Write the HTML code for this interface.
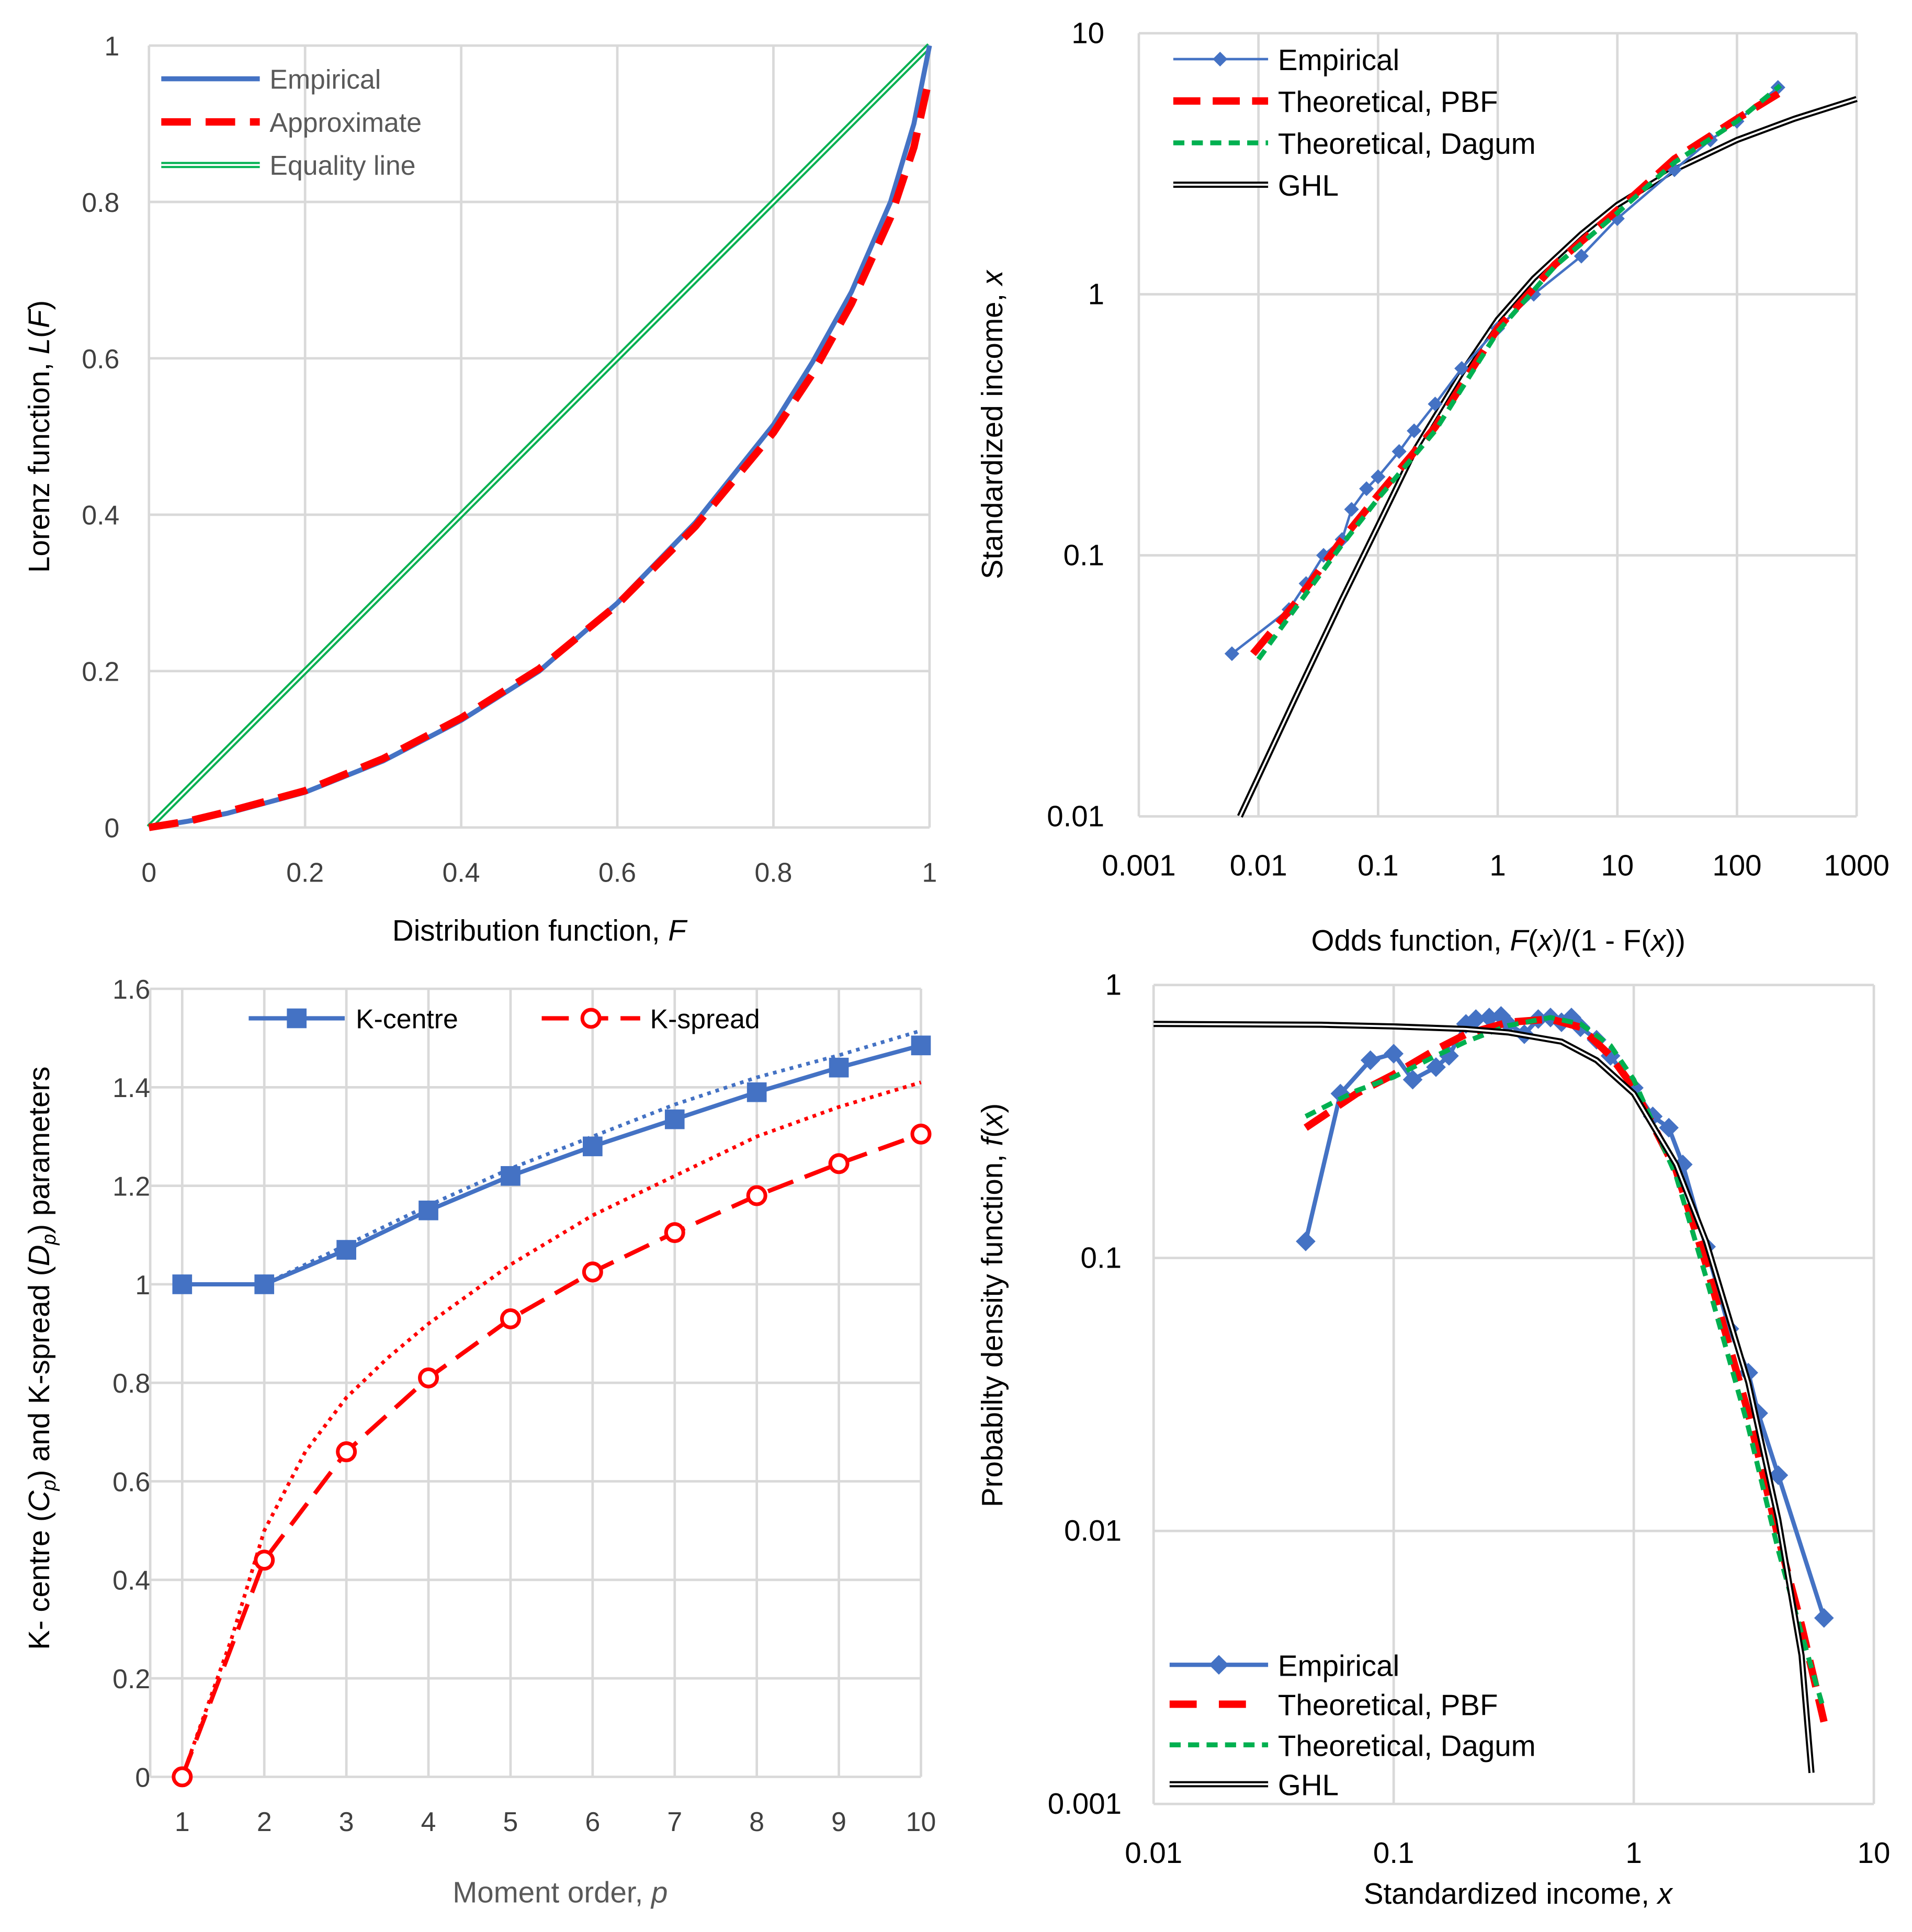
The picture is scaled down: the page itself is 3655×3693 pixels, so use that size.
<!DOCTYPE html>
<html><head><meta charset="utf-8">
<style>
html,body{margin:0;padding:0;background:#fff;}
svg{display:block;}
text{font-family:"Liberation Sans",sans-serif;fill:#000;}
</style></head>
<body>
<svg id="c" width="3655" height="3693" viewBox="0 0 1553 1569" preserveAspectRatio="none" xmlns="http://www.w3.org/2000/svg"></svg>
<script>
// ---------- Panel A: Lorenz ----------
const lorenzF = [0,0.05,0.1,0.2,0.3,0.4,0.5,0.6,0.7,0.8,0.85,0.9,0.95,0.98,1];
const lorenzEmp = [0,0.008,0.018,0.045,0.085,0.137,0.2,0.287,0.39,0.515,0.595,0.685,0.8,0.9,1];
const lorenzApprox = [0,0.008,0.02,0.047,0.088,0.14,0.203,0.285,0.385,0.505,0.58,0.67,0.78,0.87,0.96];
const lorenzTicks = [0,0.2,0.4,0.6,0.8,1];
// ---------- Panel B: odds ----------
const oddsEmp = [0.006,0.018,0.025,0.035,0.05,0.06,0.08,0.1,0.15,0.2,0.3,0.5,1,2,5,10,30,60,100,220];
const incEmp = [0.042,0.062,0.078,0.1,0.115,0.15,0.18,0.2,0.25,0.3,0.38,0.52,0.74,1.0,1.4,1.95,3.0,3.9,4.6,6.2];
const oddsPBF = [0.009,0.02,0.05,0.1,0.3,1,3,10,30,100,270];
const incPBF = [0.042,0.065,0.115,0.17,0.31,0.74,1.3,2.1,3.3,4.7,6.2];
const oddsDag = [0.01,0.02,0.05,0.1,0.3,1,3,10,30,100,230];
const incDag = [0.04,0.062,0.11,0.165,0.3,0.72,1.28,2.05,3.2,4.6,6.3];
const oddsGHL = [0.007,0.02,0.05,0.1,0.2,0.5,1,2,5,10,30,100,300,1000];
const incGHL = [0.01,0.028,0.068,0.13,0.25,0.5,0.8,1.15,1.7,2.2,3.0,3.9,4.7,5.6];
const oddsTicks = ["0.001","0.01","0.1","1","10","100","1000"];
const incTicks = ["0.01","0.1","1","10"];
// ---------- Panel C: moments ----------
const moments = [1,2,3,4,5,6,7,8,9,10];
const kCentre = [1,1,1.07,1.15,1.22,1.28,1.335,1.39,1.44,1.485];
const kCentreTrend = [null,1,1.08,1.16,1.235,1.3,1.365,1.42,1.465,1.515];
const kSpread = [0,0.44,0.66,0.81,0.93,1.025,1.105,1.18,1.245,1.305];
const kSpreadTrendP = [1,1.3,1.6,2,2.5,3,3.5,4,5,6,7,8,9,10];
const kSpreadTrend = [0,0.14,0.28,0.5,0.66,0.77,0.85,0.92,1.04,1.14,1.22,1.3,1.36,1.41];
const kTicks = [0,0.2,0.4,0.6,0.8,1,1.2,1.4,1.6];
// ---------- Panel D: pdf ----------
const xEmp = [0.043,0.06,0.08,0.1,0.12,0.15,0.17,0.2,0.22,0.25,0.28,0.3,0.35,0.4,0.45,0.5,0.55,0.6,0.7,0.8,1,1.2,1.4,1.6,2,2.5,3,3.3,4,6.2];
const fEmp = [0.115,0.4,0.53,0.56,0.45,0.5,0.55,0.72,0.75,0.76,0.77,0.72,0.66,0.75,0.76,0.73,0.76,0.7,0.63,0.55,0.42,0.33,0.3,0.22,0.11,0.055,0.038,0.027,0.016,0.0048];
const xPBF = [0.043,0.07,0.1,0.15,0.2,0.3,0.45,0.6,0.8,1,1.5,2,3,4,5,6.2];
const fPBF = [0.3,0.4,0.47,0.58,0.66,0.73,0.75,0.7,0.55,0.42,0.21,0.095,0.027,0.0095,0.0045,0.002];
const xDag = [0.043,0.07,0.1,0.15,0.2,0.3,0.45,0.6,0.8,1,1.5,2,3,4,5,6.2];
const fDag = [0.33,0.41,0.46,0.55,0.62,0.71,0.76,0.72,0.6,0.45,0.2,0.085,0.024,0.0085,0.0042,0.0022];
const xGHL = [0.01,0.05,0.1,0.2,0.3,0.5,0.7,1,1.5,2,3,4,5,5.5];
const fGHL = [0.72,0.715,0.705,0.69,0.67,0.62,0.53,0.4,0.22,0.115,0.035,0.011,0.0035,0.0013];
const pdfXTicks = ["0.01","0.1","1","10"];
const pdfYTicks = ["0.001","0.01","0.1","1"];

const NS="http://www.w3.org/2000/svg";
const svg=document.getElementById('c');
function mk(tag,attrs,parent){const e=document.createElementNS(NS,tag);for(const k in attrs)e.setAttribute(k,attrs[k]);(parent||svg).appendChild(e);return e;}
function txt(s,x,y,size,anchor,parent,fill){const t=mk('text',{x:x,y:y,'font-size':size,'text-anchor':anchor||'middle'},parent);if(fill)t.setAttribute('style','fill:'+fill);t.textContent=s;return t;}
function pathD(xs,ys,sx,sy){let d='';let first=true;for(let i=0;i<xs.length;i++){if(ys[i]===null)continue;d+=(first?'M':'L')+sx(xs[i]).toFixed(2)+' '+sy(ys[i]).toFixed(2)+' ';first=false;}return d;}
const GRID='#d9d9d9';

// ===== Panel A =====
{
const g=mk('g',{});


const sx=v=>121+v*634, sy=v=>672-v*635;
lorenzTicks.forEach(t=>{
  mk('line',{x1:sx(t),x2:sx(t),y1:sy(0),y2:sy(1),stroke:GRID,'stroke-width':2},g);
  mk('line',{x1:sx(0),x2:sx(1),y1:sy(t),y2:sy(t),stroke:GRID,'stroke-width':2},g);
  const a=txt(String(t),sx(t),716,22,'middle',g,'#404040');
  
  const b=txt(String(t),97,sy(t)+8,22,'end',g,'#404040');
  
});
let e=mk('path',{d:pathD([0,1],[0,1],sx,sy),stroke:'#00b050','stroke-width':5,fill:'none'},g);

mk('path',{d:pathD([0,1],[0,1],sx,sy),stroke:'#fff','stroke-width':1.6,fill:'none'},g);
e=mk('path',{d:pathD(lorenzF,lorenzEmp,sx,sy),stroke:'#4472c4','stroke-width':4,fill:'none'},g);

e=mk('path',{d:pathD(lorenzF,lorenzApprox,sx,sy),stroke:'#ff0000','stroke-width':6,fill:'none','stroke-dasharray':'24 12'},g);

const lg=mk('g',{},g);
mk('line',{x1:131,x2:211,y1:64,y2:64,stroke:'#4472c4','stroke-width':4},lg);
mk('line',{x1:131,x2:211,y1:99,y2:99,stroke:'#ff0000','stroke-width':6,'stroke-dasharray':'24 12'},lg);
mk('line',{x1:131,x2:211,y1:134,y2:134,stroke:'#00b050','stroke-width':5},lg);
mk('line',{x1:131,x2:211,y1:134,y2:134,stroke:'#fff','stroke-width':1.6},lg);
txt('Empirical',219,72,22,'start',lg,'#595959');
txt('Approximate',219,107,22,'start',lg,'#595959');
txt('Equality line',219,142,22,'start',lg,'#595959');
const xt=mk('text',{x:sx(0.5),y:764,'font-size':24,'text-anchor':'middle'},g);

xt.innerHTML='Distribution function, <tspan font-style="italic">F</tspan>';
const yt=mk('text',{x:0,y:0,'font-size':24,'text-anchor':'middle',transform:'translate(40,'+sy(0.5)+') rotate(-90)'},g);

yt.innerHTML='Lorenz function, <tspan font-style="italic">L</tspan>(<tspan font-style="italic">F</tspan>)';
}

// ===== Panel B =====
{
const g=mk('g',{});


const sx=v=>925+(Math.log10(v)+3)*97.17, sy=v=>663-(Math.log10(v)+2)*212;
oddsTicks.forEach(t=>{const v=parseFloat(t);
  mk('line',{x1:sx(v),x2:sx(v),y1:sy(0.01),y2:sy(10),stroke:GRID,'stroke-width':2},g);
  const a=txt(t,sx(v),711,24,'middle',g);});
incTicks.forEach(t=>{const v=parseFloat(t);
  mk('line',{x1:sx(0.001),x2:sx(1000),y1:sy(v),y2:sy(v),stroke:GRID,'stroke-width':2},g);
  const a=txt(t,897,sy(v)+8,24,'end',g);});
let e=mk('path',{d:pathD(oddsGHL,incGHL,sx,sy),stroke:'#000','stroke-width':5,fill:'none'},g);

mk('path',{d:pathD(oddsGHL,incGHL,sx,sy),stroke:'#fff','stroke-width':1.6,fill:'none'},g);
e=mk('path',{d:pathD(oddsEmp,incEmp,sx,sy),stroke:'#4472c4','stroke-width':2,fill:'none'},g);

oddsEmp.forEach((o,i)=>{const cx=sx(o),cy=sy(incEmp[i]);
  const m=mk('path',{d:`M${cx} ${cy-6}L${cx+6} ${cy}L${cx} ${cy+6}L${cx-6} ${cy}Z`,fill:'#4472c4'},g);
  });
e=mk('path',{d:pathD(oddsPBF,incPBF,sx,sy),stroke:'#ff0000','stroke-width':6,fill:'none','stroke-dasharray':'22 10'},g);

e=mk('path',{d:pathD(oddsDag,incDag,sx,sy),stroke:'#00b050','stroke-width':4,fill:'none','stroke-dasharray':'9 6'},g);

const lg=mk('g',{},g);
mk('line',{x1:953,x2:1030,y1:48,y2:48,stroke:'#4472c4','stroke-width':2},lg);
mk('path',{d:'M991 42L997 48L991 54L985 48Z',fill:'#4472c4'},lg);
mk('line',{x1:953,x2:1030,y1:82,y2:82,stroke:'#ff0000','stroke-width':6,'stroke-dasharray':'22 10'},lg);
mk('line',{x1:953,x2:1030,y1:116,y2:116,stroke:'#00b050','stroke-width':4,'stroke-dasharray':'9 6'},lg);
mk('line',{x1:953,x2:1030,y1:150,y2:150,stroke:'#000','stroke-width':5},lg);
mk('line',{x1:953,x2:1030,y1:150,y2:150,stroke:'#fff','stroke-width':1.6},lg);
txt('Empirical',1038,57,24,'start',lg);
txt('Theoretical, PBF',1038,91,24,'start',lg);
txt('Theoretical, Dagum',1038,125,24,'start',lg);
txt('GHL',1038,159,24,'start',lg);
const xt=mk('text',{x:1217,y:772,'font-size':24,'text-anchor':'middle'},g);

xt.innerHTML='Odds function, <tspan font-style="italic">F</tspan>(<tspan font-style="italic">x</tspan>)/(1 - F(<tspan font-style="italic">x</tspan>))';
const yt=mk('text',{x:0,y:0,'font-size':24,'text-anchor':'middle',transform:'translate(814,345) rotate(-90)'},g);

yt.innerHTML='Standardized income, <tspan font-style="italic">x</tspan>';
}

// ===== Panel C =====
{
const g=mk('g',{});


const sx=v=>148+(v-1)*66.67, sy=v=>1443-v*400;
moments.forEach(p=>{
  mk('line',{x1:sx(p),x2:sx(p),y1:sy(0),y2:sy(1.6),stroke:GRID,'stroke-width':2},g);
  const a=txt(String(p),sx(p),1487,22,'middle',g,'#404040');});
mk('line',{x1:sx(1)-26,x2:sx(1)-26,y1:sy(0),y2:sy(1.6),stroke:GRID,'stroke-width':2},g);
kTicks.forEach(t=>{
  mk('line',{x1:sx(1)-26,x2:sx(10),y1:sy(t),y2:sy(t),stroke:GRID,'stroke-width':2},g);
  const a=txt(String(t),122,sy(t)+8,22,'end',g,'#404040');});
let e=mk('path',{d:pathD(moments,kCentreTrend,sx,sy),stroke:'#4472c4','stroke-width':3,fill:'none','stroke-dasharray':'3 4'},g);

e=mk('path',{d:pathD(kSpreadTrendP,kSpreadTrend,sx,sy),stroke:'#ff0000','stroke-width':3,fill:'none','stroke-dasharray':'3 4'},g);

e=mk('path',{d:pathD(moments,kCentre,sx,sy),stroke:'#4472c4','stroke-width':3.5,fill:'none'},g);

moments.forEach((p,i)=>{const m=mk('rect',{x:sx(p)-8,y:sy(kCentre[i])-8,width:16,height:16,fill:'#4472c4'},g);
  });
e=mk('path',{d:pathD(moments,kSpread,sx,sy),stroke:'#ff0000','stroke-width':3.5,fill:'none','stroke-dasharray':'22 10'},g);

moments.forEach((p,i)=>{const m=mk('circle',{cx:sx(p),cy:sy(kSpread[i]),r:7,fill:'#fff',stroke:'#ff0000','stroke-width':3},g);
  });
const lg=mk('g',{},g);
mk('line',{x1:202,x2:280,y1:827,y2:827,stroke:'#4472c4','stroke-width':3.5},lg);
mk('rect',{x:233,y:819,width:16,height:16,fill:'#4472c4'},lg);
mk('line',{x1:440,x2:520,y1:827,y2:827,stroke:'#ff0000','stroke-width':3.5,'stroke-dasharray':'22 10'},lg);
mk('circle',{cx:480,cy:827,r:7,fill:'#fff',stroke:'#ff0000','stroke-width':3},lg);
txt('K-centre',289,835,22,'start',lg);
txt('K-spread',528,835,22,'start',lg);
const xt=mk('text',{x:455,y:1545,'font-size':24,'text-anchor':'middle'},g);
xt.setAttribute('style','fill:#595959');

xt.innerHTML='Moment order, <tspan font-style="italic">p</tspan>';
const yt=mk('text',{x:0,y:0,'font-size':24,'text-anchor':'middle',transform:'translate(40,1103) rotate(-90)'},g);

yt.innerHTML='K- centre (<tspan font-style="italic">C<tspan font-size="16" dy="5">p</tspan></tspan><tspan dy="-5">) and  K-spread (</tspan><tspan font-style="italic">D<tspan font-size="16" dy="5">p</tspan></tspan><tspan dy="-5">)  parameters</tspan>';
}

// ===== Panel D =====
{
const g=mk('g',{});


const sx=v=>937+(Math.log10(v)+2)*195, sy=v=>1465-(Math.log10(v)+3)*221.7;
pdfXTicks.forEach(t=>{const v=parseFloat(t);
  mk('line',{x1:sx(v),x2:sx(v),y1:sy(0.001),y2:sy(1),stroke:GRID,'stroke-width':2},g);
  const a=txt(t,sx(v),1513,24,'middle',g);});
pdfYTicks.forEach(t=>{const v=parseFloat(t);
  mk('line',{x1:sx(0.01),x2:sx(10),y1:sy(v),y2:sy(v),stroke:GRID,'stroke-width':2},g);
  const a=txt(t,911,sy(v)+8,24,'end',g);});
let e=mk('path',{d:pathD(xEmp,fEmp,sx,sy),stroke:'#4472c4','stroke-width':3.5,fill:'none'},g);

xEmp.forEach((x,i)=>{const cx=sx(x),cy=sy(fEmp[i]);
  const m=mk('path',{d:`M${cx} ${cy-8}L${cx+8} ${cy}L${cx} ${cy+8}L${cx-8} ${cy}Z`,fill:'#4472c4'},g);
  });
e=mk('path',{d:pathD(xPBF,fPBF,sx,sy),stroke:'#ff0000','stroke-width':6,fill:'none','stroke-dasharray':'22 10'},g);

e=mk('path',{d:pathD(xDag,fDag,sx,sy),stroke:'#00b050','stroke-width':4,fill:'none','stroke-dasharray':'9 6'},g);

e=mk('path',{d:pathD(xGHL,fGHL,sx,sy),stroke:'#000','stroke-width':5,fill:'none'},g);

mk('path',{d:pathD(xGHL,fGHL,sx,sy),stroke:'#fff','stroke-width':1.6,fill:'none'},g);
const lg=mk('g',{},g);
mk('line',{x1:950,x2:1030,y1:1352,y2:1352,stroke:'#4472c4','stroke-width':3.5},lg);
mk('path',{d:'M990 1344L998 1352L990 1360L982 1352Z',fill:'#4472c4'},lg);
mk('line',{x1:950,x2:1030,y1:1384,y2:1384,stroke:'#ff0000','stroke-width':6,'stroke-dasharray':'22 18'},lg);
mk('line',{x1:950,x2:1030,y1:1417,y2:1417,stroke:'#00b050','stroke-width':4,'stroke-dasharray':'9 6'},lg);
mk('line',{x1:950,x2:1030,y1:1449,y2:1449,stroke:'#000','stroke-width':5},lg);
mk('line',{x1:950,x2:1030,y1:1449,y2:1449,stroke:'#fff','stroke-width':1.6},lg);
txt('Empirical',1038,1361,24,'start',lg);
txt('Theoretical, PBF',1038,1393,24,'start',lg);
txt('Theoretical, Dagum',1038,1426,24,'start',lg);
txt('GHL',1038,1458,24,'start',lg);
const xt=mk('text',{x:1233,y:1546,'font-size':24,'text-anchor':'middle'},g);

xt.innerHTML='Standardized income, <tspan font-style="italic">x</tspan>';
const yt=mk('text',{x:0,y:0,'font-size':24,'text-anchor':'middle',transform:'translate(814,1060) rotate(-90)'},g);

yt.innerHTML='Probabilty density function, <tspan font-style="italic">f</tspan>(<tspan font-style="italic">x</tspan>)';
}
</script>
</body></html>
